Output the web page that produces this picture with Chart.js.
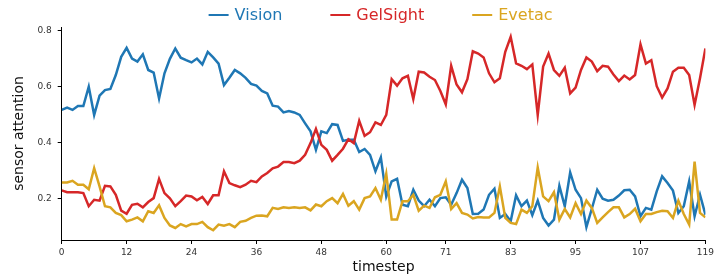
<!DOCTYPE html>
<html>
<head>
<meta charset="utf-8">
<script src="https://cdn.jsdelivr.net/npm/chart.js@4.4.1/dist/chart.umd.min.js"></script>
<style>
  html, body { margin: 0; padding: 0; background: #fff; }
  #wrap { width: 717px; height: 280px; position: relative; }
</style>
</head>
<body>
<div id="wrap"><canvas id="attention-chart"></canvas></div>
<script>
// tick labels on the x axis
const xTicks = [0, 12, 24, 36, 48, 60, 71, 83, 95, 107, 119];
const yTicks = [0.2, 0.4, 0.6, 0.8];

// sensor attention per timestep
const vision = [
  0.517, 0.525, 0.517, 0.531, 0.531, 0.600, 0.499, 0.568, 0.588, 0.592,
  0.642, 0.707, 0.739, 0.701, 0.690, 0.716, 0.660, 0.651, 0.558, 0.648,
  0.700, 0.737, 0.704, 0.695, 0.687, 0.701, 0.680, 0.725, 0.705, 0.683,
  0.606, 0.632, 0.660, 0.648, 0.632, 0.610, 0.604, 0.585, 0.576, 0.532,
  0.529, 0.508, 0.513, 0.508, 0.499, 0.469, 0.440, 0.374, 0.440, 0.434,
  0.466, 0.463, 0.406, 0.410, 0.410, 0.366, 0.377, 0.356, 0.297, 0.347,
  0.207, 0.261, 0.270, 0.177, 0.172, 0.231, 0.192, 0.172, 0.195, 0.172,
  0.201, 0.204, 0.177, 0.219, 0.267, 0.237, 0.144, 0.145, 0.160, 0.213,
  0.235, 0.130, 0.144, 0.118, 0.211, 0.172, 0.192, 0.140, 0.192, 0.130,
  0.103, 0.124, 0.245, 0.172, 0.293, 0.231, 0.201, 0.097, 0.163, 0.231,
  0.199, 0.192, 0.195, 0.210, 0.229, 0.231, 0.207, 0.136, 0.166, 0.160,
  0.225, 0.279, 0.255, 0.228, 0.148, 0.172, 0.261, 0.136, 0.213, 0.142
];
const gelsight = [
  0.229, 0.222, 0.222, 0.222, 0.219, 0.172, 0.195, 0.192, 0.245, 0.243,
  0.213, 0.156, 0.145, 0.177, 0.181, 0.168, 0.187, 0.201, 0.270, 0.219,
  0.200, 0.172, 0.190, 0.210, 0.207, 0.193, 0.205, 0.180, 0.211, 0.211,
  0.297, 0.255, 0.247, 0.240, 0.249, 0.263, 0.258, 0.279, 0.291, 0.308,
  0.314, 0.330, 0.330, 0.326, 0.335, 0.356, 0.398, 0.449, 0.392, 0.374,
  0.335, 0.356, 0.378, 0.412, 0.398, 0.478, 0.424, 0.437, 0.472, 0.463,
  0.499, 0.627, 0.604, 0.630, 0.639, 0.556, 0.654, 0.651, 0.636, 0.624,
  0.585, 0.537, 0.675, 0.608, 0.580, 0.627, 0.727, 0.719, 0.705, 0.648,
  0.616, 0.630, 0.725, 0.779, 0.684, 0.675, 0.663, 0.680, 0.499, 0.672,
  0.719, 0.660, 0.639, 0.668, 0.576, 0.597, 0.660, 0.705, 0.690, 0.656,
  0.675, 0.672, 0.644, 0.620, 0.640, 0.626, 0.642, 0.752, 0.683, 0.695,
  0.602, 0.561, 0.594, 0.654, 0.668, 0.668, 0.642, 0.535, 0.630, 0.737
];
const evetac = [
  0.257, 0.257, 0.263, 0.249, 0.249, 0.233, 0.308, 0.243, 0.172, 0.168,
  0.148, 0.140, 0.118, 0.124, 0.132, 0.118, 0.154, 0.148, 0.175, 0.130,
  0.103, 0.094, 0.108, 0.100, 0.108, 0.108, 0.116, 0.097, 0.086, 0.106,
  0.102, 0.108, 0.097, 0.116, 0.120, 0.130, 0.138, 0.139, 0.136, 0.166,
  0.162, 0.168, 0.166, 0.168, 0.166, 0.168, 0.157, 0.178, 0.172, 0.190,
  0.201, 0.183, 0.216, 0.174, 0.190, 0.160, 0.201, 0.207, 0.237, 0.195,
  0.288, 0.124, 0.124, 0.190, 0.190, 0.213, 0.156, 0.174, 0.166, 0.204,
  0.213, 0.261, 0.162, 0.183, 0.148, 0.142, 0.128, 0.133, 0.132, 0.132,
  0.148, 0.243, 0.130, 0.112, 0.108, 0.160, 0.148, 0.172, 0.311, 0.207,
  0.190, 0.222, 0.124, 0.162, 0.132, 0.183, 0.144, 0.192, 0.166, 0.112,
  0.132, 0.151, 0.168, 0.168, 0.132, 0.144, 0.163, 0.118, 0.144, 0.144,
  0.151, 0.156, 0.154, 0.130, 0.192, 0.144, 0.106, 0.332, 0.148, 0.132
];

const timesteps = vision.map((_, i) => i);
const toPoints = arr => arr.map((v, i) => ({x: timesteps[i], y: v}));

// legend drawn above the plot, text in the series colour
const topLegend = {
    id: 'topLegend',
    afterDraw(chart) {
        const ctx = chart.ctx;
        const items = chart.data.datasets;
        ctx.save();
        ctx.font = '16px "DejaVu Sans"';
        ctx.textBaseline = 'middle';
        const lineW = 20, gapText = 6, gapItem = 48;
        const widths = items.map(d => lineW + gapText + ctx.measureText(d.label).width);
        const total = widths.reduce((a, b) => a + b, 0) + gapItem * (items.length - 1);
        let x = (chart.chartArea.left + chart.chartArea.right) / 2 - total / 2 - 3;
        const y = 15;
        items.forEach((d, i) => {
            ctx.strokeStyle = d.borderColor;
            ctx.lineWidth = 2;
            ctx.beginPath();
            ctx.moveTo(x, y);
            ctx.lineTo(x + lineW, y);
            ctx.stroke();
            ctx.fillStyle = d.borderColor;
            ctx.fillText(d.label, x + lineW + gapText, y + 1);
            x += widths[i] + gapItem;
        });
        ctx.restore();
    }
};

const tickFont = {family: 'DejaVu Sans', size: 9};
const titleFont = {family: 'DejaVu Sans', size: 14};

new Chart(document.getElementById('attention-chart'), {
    type: 'line',
    data: {
        datasets: [
            {label: 'Vision', data: toPoints(vision), borderColor: '#1f77b4', order: 2},
            {label: 'GelSight', data: toPoints(gelsight), borderColor: '#d62728', order: 1},
            {label: 'Evetac', data: toPoints(evetac), borderColor: '#daa520', order: 0}
        ]
    },
    options: {
        responsive: true,
        maintainAspectRatio: false,
        animation: false,
        datasets: {
            line: {borderWidth: 2.5, pointRadius: 0, tension: 0, fill: false}
        },
        layout: {padding: {top: 27, right: 10, left: 11, bottom: 0}},
        plugins: {
            legend: {display: false},
            tooltip: {enabled: false}
        },
        scales: {
            x: {
                type: 'linear',
                min: 0,
                max: 119,
                afterBuildTicks: s => { s.ticks = xTicks.map(v => ({value: v})); },
                afterFit: s => { s.height = 40; },
                grid: {drawOnChartArea: false, drawTicks: true, tickLength: 4, color: '#000'},
                border: {display: true, color: '#000', width: 1},
                ticks: {font: tickFont, color: '#333', padding: 3, maxRotation: 0,
                        callback: v => String(v)},
                title: {display: true, text: 'timestep', font: titleFont, color: '#111', padding: {top: 0, bottom: 4}}
            },
            y: {
                min: 0.051,
                max: 0.814,
                afterBuildTicks: s => { s.ticks = yTicks.map(v => ({value: v})); },
                afterFit: s => { s.width = 50.7; },
                grid: {drawOnChartArea: false, drawTicks: true, tickLength: 4, color: '#000'},
                border: {display: true, color: '#000', width: 1},
                ticks: {font: tickFont, color: '#333', padding: 6,
                        callback: v => v.toFixed(1)},
                title: {display: true, text: 'sensor attention', font: titleFont, color: '#111', padding: {top: 0, bottom: 6}}
            }
        }
    },
    plugins: [topLegend]
});
</script>
</body>
</html>
